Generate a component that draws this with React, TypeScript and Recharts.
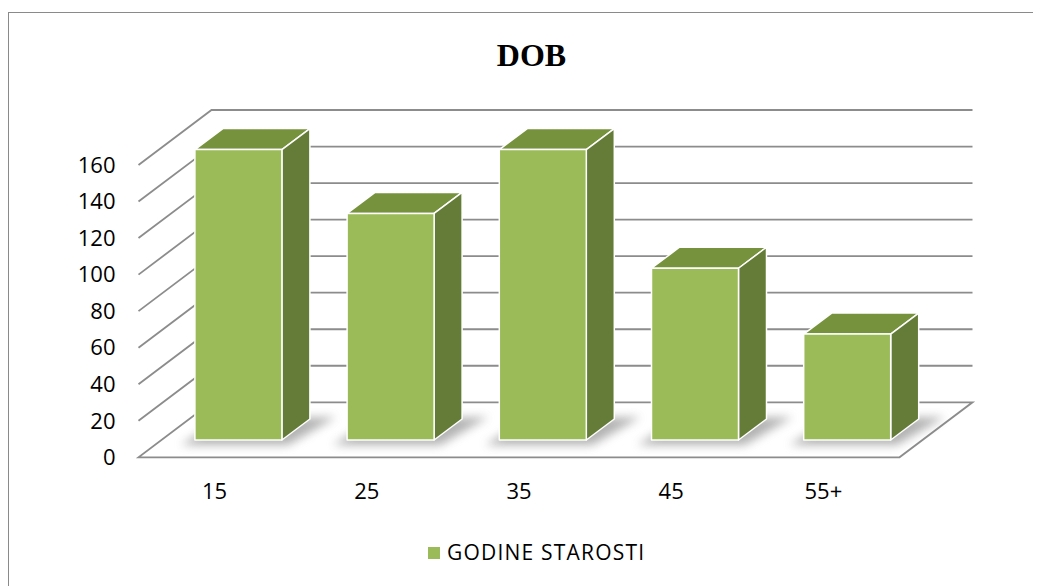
import React from 'react';
import { BarChart, Bar, XAxis, YAxis, CartesianGrid, Legend, Customized } from 'recharts';

const categories = ['15', '25', '35', '45', '55+'];
const seriesName = 'GODINE STAROSTI';
const values = [159, 124, 159, 94, 58];
const yTicks = [0, 20, 40, 60, 80, 100, 120, 140, 160];
const title = 'DOB';

const data = categories.map((c, i) => ({ cat: c, v: values[i] }));

const W = 1033;
const H = 578;
const LEGEND_H = 30;
const XAXIS_H = 30;
const YAXIS_W = 60;
const BOTTOM_SPACE = 98.7;
const MARGIN = { top: 157, right: 141.5, bottom: BOTTOM_SPACE - LEGEND_H, left: 70.5 };
const PLOT_BOTTOM = H - BOTTOM_SPACE - XAXIS_H;

const FLOOR_DX = 73;
const FLOOR_DY = -55;
const GRID = '#8c8c8c';

const FRONT = '#9BBB59';
const TOP = '#77923D';
const SIDE = '#647C37';

const gridLine = (props: any) => {
  const { x1, y1, x2, index } = props;
  const bx = FLOOR_DX;
  const by = FLOOR_DY;
  let d: string;
  if (Math.abs(y1 - PLOT_BOTTOM) < 2) {
    d = `M${x1 + bx},${y1 + by} L${x1},${y1} L${x2},${y1} L${x2 + bx},${y1 + by} L${x1 + bx},${y1 + by}`;
  } else {
    d = `M${x1},${y1} L${x1 + bx},${y1 + by} L${x2 + bx},${y1 + by}`;
  }
  return <path key={`g-${index}-${y1}`} d={d} fill="none" stroke={GRID} strokeWidth={1.8} />;
};

const Bar3D = (props: any) => {
  const { x, y, width, height } = props;
  const sx = 23.4;
  const sy = -17.3;
  const dx = 28;
  const dy = -21;
  const x0 = x + sx;
  const x1 = x0 + width;
  const yt = y + sy;
  const yb = y + height + sy;
  const pts = (a: number[][]) => a.map((p) => p.join(',')).join(' ');
  return (
    <g>
      <polygon
        points={pts([
          [x0 - 14, yb + 5],
          [x1 + 6, yb + 5],
          [x1 + dx + 26, yb + dy - 2],
          [x0 + dx, yb + dy],
        ])}
        fill="#808080"
        opacity={0.6}
        filter="url(#barShadow)"
      />
      <polygon
        points={pts([[x0, yt], [x0 + dx, yt + dy], [x1 + dx, yt + dy], [x1, yt]])}
        fill={TOP}
        stroke="#ffffff"
        strokeWidth={1.5}
        strokeLinejoin="round"
      />
      <polygon
        points={pts([[x1, yt], [x1 + dx, yt + dy], [x1 + dx, yb + dy], [x1, yb]])}
        fill={SIDE}
        stroke="#ffffff"
        strokeWidth={1.5}
        strokeLinejoin="round"
      />
      <polygon
        points={pts([[x0, yt], [x1, yt], [x1, yb], [x0, yb]])}
        fill={FRONT}
        stroke="#ffffff"
        strokeWidth={1.5}
        strokeLinejoin="round"
      />
    </g>
  );
};

const Decor = () => (
  <g>
    <defs>
      <filter id="barShadow" x="-50%" y="-50%" width="200%" height="200%">
        <feGaussianBlur stdDeviation="5" />
      </filter>
    </defs>
    <text
      x={523.5}
      y={58}
      textAnchor="middle"
      fontFamily="'Liberation Serif', 'Times New Roman', serif"
      fontWeight="bold"
      fontSize={32}
      fill="#000"
    >
      {title}
    </text>
  </g>
);

const LegendContent = () => (
  <div style={{ position: 'relative', width: W, height: LEGEND_H }}>
    <div style={{ position: 'absolute', left: 420, top: 9, width: 12, height: 12, background: FRONT }} />
    <div
      style={{
        position: 'absolute',
        left: 439,
        top: 0,
        fontFamily: "'Open Sans', sans-serif",
        fontSize: 21,
        letterSpacing: 1.2,
        color: '#000',
        whiteSpace: 'nowrap',
      }}
    >
      {seriesName}
    </div>
  </div>
);

const tickStyle = { fontFamily: "'Open Sans', sans-serif", fontSize: 22, fill: '#000' };

export default function App() {
  return (
    <div style={{ position: 'relative', width: W, height: H }}>
      <style>{`html, body { overflow: hidden; }`}</style>
      <div
        style={{
          position: 'absolute',
          left: 0,
          top: 4,
          width: W,
          height: H - 4,
          borderTop: '1.6px solid #8a8a8a',
          borderLeft: '1.6px solid #8a8a8a',
          boxSizing: 'border-box',
          pointerEvents: 'none',
        }}
      />
      <BarChart width={W} height={H} data={data} margin={MARGIN} barSize={87}>
        <Customized component={Decor} />
        <CartesianGrid vertical={false} horizontal={gridLine} />
        <XAxis
          dataKey="cat"
          axisLine={false}
          tickLine={false}
          tickSize={0}
          tickMargin={26}
          height={XAXIS_H}
          tick={tickStyle}
          interval={0}
        />
        <YAxis
          domain={[0, 160]}
          ticks={yTicks}
          axisLine={false}
          tickLine={false}
          tickSize={0}
          tickMargin={23}
          width={YAXIS_W}
          tick={tickStyle}
          interval={0}
        />
        <Legend
          content={LegendContent}
          wrapperStyle={{ position: 'absolute', top: 530, left: 0, width: W, height: LEGEND_H }}
        />
        <Bar dataKey="v" name={seriesName} shape={Bar3D} isAnimationActive={false} />
      </BarChart>
    </div>
  );
}
